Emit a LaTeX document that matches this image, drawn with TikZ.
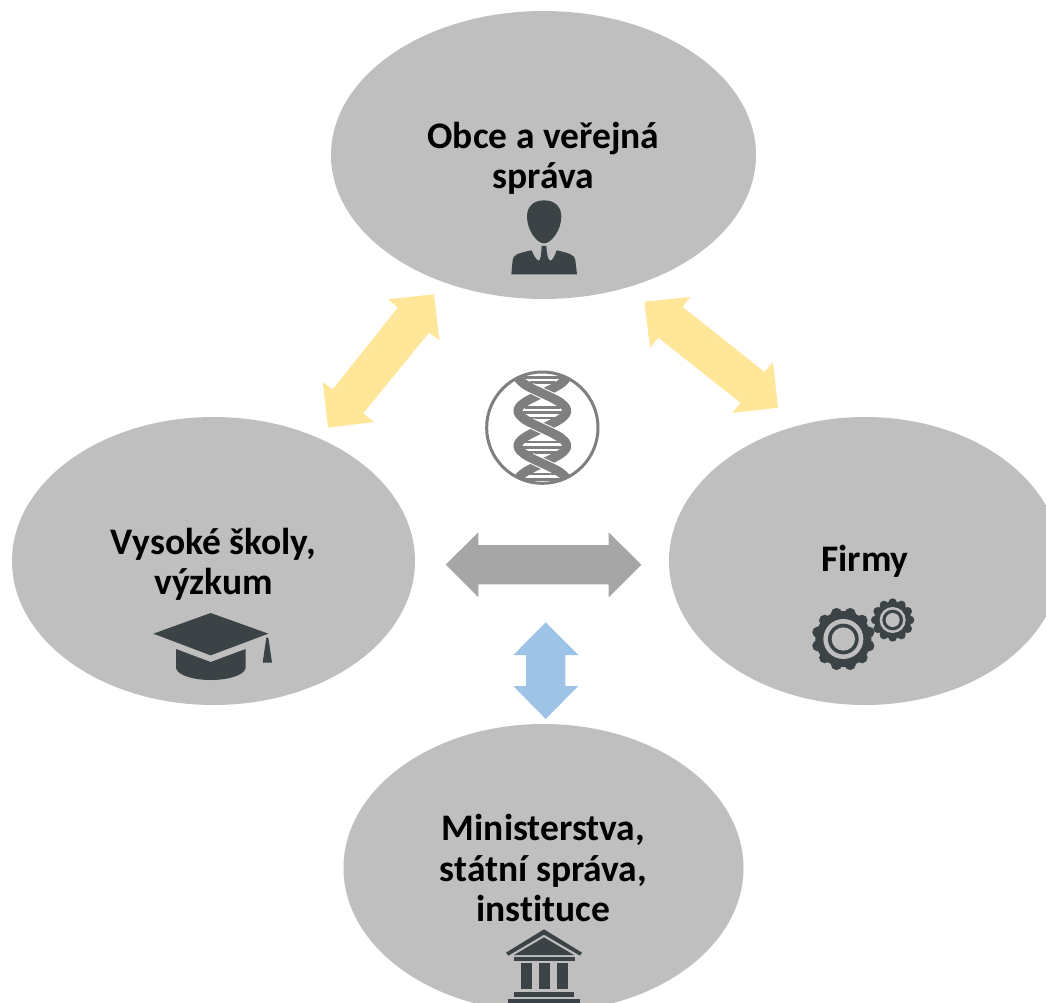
\documentclass[tikz,border=0pt]{standalone}
\usepackage{fontspec}
\setmainfont[Ligatures={NoCommon}]{Carlito}
\usetikzlibrary{shapes.geometric}
\definecolor{bubble}{HTML}{BFBFBF}
\definecolor{icondark}{HTML}{3B4347}
\definecolor{dnagray}{HTML}{7F7F7F}
\definecolor{yellowarrow}{HTML}{FFE699}
\definecolor{grayarrow}{HTML}{A6A6A6}
\definecolor{bluearrow}{HTML}{9DC3E6}
\tikzset{
  bubblenode/.style={ellipse,fill=bubble,inner sep=0pt,align=center,minimum height=288pt,
    font=\fontsize{37.5}{40.5}\selectfont\bfseries},
  icon/.style={fill=icondark,draw=none},
  light/.style={fill=bubble,draw=none},
  strand/.style={draw=dnagray,line width=9pt},
  halo/.style={draw=white,line width=11pt},
  rung/.style={draw=dnagray,line width=2.4pt}
}
\begin{document}
\begin{tikzpicture}[x=1pt,y=-1pt]
\useasboundingbox (0,0) rectangle (1046,1003);
\clip (0,0) rectangle (1046,1003);
\node[bubblenode,minimum width=425pt] (top) at (543.5,155) {\rule{0pt}{33pt}Obce a veřejná\\správa};
\node[bubblenode,minimum width=403pt] (left) at (213.5,561) {\rule{0pt}{33pt}Vysoké školy,\\výzkum};
\node[bubblenode,minimum width=392pt] (right) at (865,561) {Firmy};
\node[bubblenode,minimum width=400pt] (bottom) at (543.5,868) {Ministerstva,\\státní správa,\\instituce};
% arrows
\fill[yellowarrow] (434,294.3)--(388,299.3)--(397.7,307.7)--(332.7,389.3)--(322.7,382)--(328,427.7)--(374,422)--(363.3,413.3)--(429,332.7)--(439.3,340)--cycle;
\fill[yellowarrow] (644.3,301.7)--(690.3,297)--(682.7,307)--(764.7,372)--(773,362)--(778,407.7)--(732.3,413)--(740.3,402.7)--(658.3,337.7)--(650,347.7)--cycle;
\fill[grayarrow] (445.7,564.7)--(478.3,532.3)--(478.3,545)--(608.7,545)--(608.7,532.3)--(641.3,564.7)--(608.7,597.3)--(608.7,584.3)--(478.3,584.3)--(478.3,597.3)--cycle;
\fill[bluearrow] (545.7,622.3)--(578.3,655)--(565.3,655)--(565.3,686)--(578.3,686)--(545.7,719)--(513.3,686)--(526,686)--(526,655)--(513.3,655)--cycle;
% DNA
\begin{scope}[shift={(440,350)},scale=1/3]
\begin{scope}
\clip (307,233) circle [radius=168];
\foreach \yy/\hw in {82/55,98/38,172/52,188/60,204/50,276/52,292/60,308/50,372/45,388/55}
  \draw[rung] (307-\hw,\yy) -- (307+\hw,\yy);
\draw[strand] plot[domain=60:410,samples=90,smooth] ({307-73*sin((\x-235)/105*180)},\x);
\draw[strand] plot[domain=60:410,samples=90,smooth] ({307+73*sin((\x-235)/105*180)},\x);
\foreach \c in {130,235,340} {
  \draw[halo] plot[domain=-16:16,samples=9,smooth] ({307+73*sin(\x/105*180)},{\c+\x});
  \draw[strand] plot[domain=-30:30,samples=13,smooth] ({307+73*sin(\x/105*180)},{\c+\x});
}
\end{scope}
\draw[draw=dnagray,line width=3pt] (307,233) circle [radius=167];
\end{scope}
% person
\begin{scope}[shift={(490,190)},scale=1/3]
\fill[icon] (162,31) .. controls (130,31) and (111,50) .. (111,80) .. controls (111,120) and (140,160) .. (162,160) .. controls (184,160) and (214,120) .. (214,80) .. controls (214,50) and (194,31) .. (162,31) -- cycle;
\fill[icon] (64,253) -- (68,210) .. controls (70,195) and (80,190) .. (125,181) .. controls (130,195) and (140,212) .. (146,212) .. controls (152,212) and (154,190) .. (155,168) -- (169,168) .. controls (170,190) and (174,212) .. (181,212) .. controls (188,212) and (195,195) .. (200,181) .. controls (240,190) and (254,195) .. (256,210) -- (261,253) -- cycle;
\end{scope}
% cap
\begin{scope}[shift={(140,600)},scale=1/3]
\fill[icon] (212,39)--(385,101)--(212,166)--(40,101)--cycle;
\fill[icon] (108,147)--(212,186)--(317,147)--(317,205) .. controls (310,228) and (260,240) .. (212,240) .. controls (165,240) and (115,228) .. (108,205) -- cycle;
\fill[icon] (379,113)--(368,188)--(396,188)--(385,113)--cycle;
\end{scope}
% gears
\begin{scope}[shift={(800,590)},scale=1/3]
\fill[icon] (130,147) circle [radius=84];
\foreach \a in {0,30,...,330} \fill[icon] (130,147) ++(\a+15:79) circle [radius=17];
\fill[light] (130,147) circle [radius=60];
\fill[icon] (130,147) circle [radius=46];
\fill[light] (130,147) circle [radius=35];
\fill[icon] (278,90) circle [radius=55];
\foreach \a in {0,30,...,330} \fill[icon] (278,90) ++(\a:52) circle [radius=13];
\fill[light] (278,90) circle [radius=39];
\fill[icon] (278,90) circle [radius=31];
\fill[light] (278,90) circle [radius=21];
\end{scope}
% institution
\begin{scope}[shift={(490,920)},scale=1/3]
\fill[icon] (162,28)--(276,98)--(270,107)--(162,44)--(55,107)--(48,98)--cycle;
\fill[icon] (162,52)--(252,105)--(72,105)--cycle;
\fill[icon] (72,111) rectangle (255,123);
\fill[icon] (93,129) rectangle (127,207);
\fill[icon] (147,129) rectangle (181,207);
\fill[icon] (201,129) rectangle (234,207);
\fill[icon] (72,216) rectangle (252,231);
\fill[icon] (54,237) rectangle (270,255);
\end{scope}
\end{tikzpicture}
\end{document}
